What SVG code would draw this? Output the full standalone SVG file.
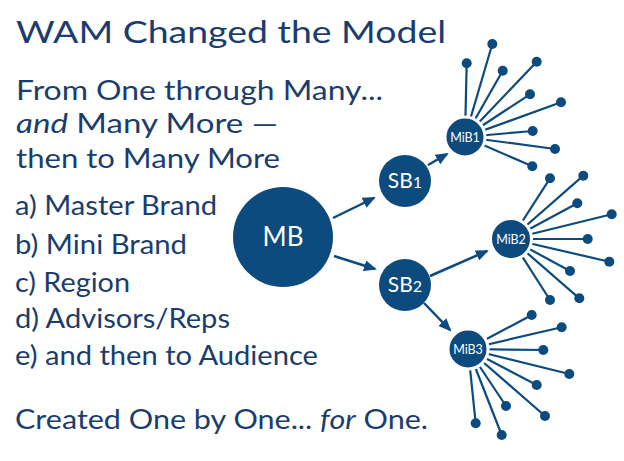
<svg xmlns="http://www.w3.org/2000/svg" width="624" height="461" viewBox="0 0 624 461">
<style>
.t{font-family:"Lato","Open Sans","Liberation Sans",sans-serif;fill:#1a3d6d}
.i{font-style:italic}
.node{fill:#0d4a7d}
.mib{fill:#0d4a7d;stroke:#fff;stroke-width:3}
.lbl{font-family:"Lato","Open Sans","Liberation Sans",sans-serif;fill:#fff;text-anchor:middle}
.arrow{stroke:#0d4a7d;stroke-width:2.5;fill:none;marker-end:url(#ah)}
.spoke{stroke:#0d4a7d;stroke-width:2.2}
.dot{fill:#0d4a7d}
</style>
<defs>
<marker id="ah" markerUnits="userSpaceOnUse" markerWidth="13" markerHeight="11" viewBox="0 0 13 11" refX="11" refY="5.5" orient="auto">
<path d="M0,0 L13,5.5 L0,11 z" fill="#0d4a7d"/>
</marker>
</defs>
<rect width="624" height="461" fill="#fff"/>
<g id="text">
<text class="t" x="16" y="43" font-size="30" textLength="430" lengthAdjust="spacingAndGlyphs">WAM Changed the Model</text>
<text class="t" x="16" y="100" font-size="27" textLength="367" lengthAdjust="spacingAndGlyphs">From One through Many...</text>
<text class="t" x="16" y="133" font-size="27" textLength="262" lengthAdjust="spacingAndGlyphs"><tspan class="i">and</tspan> Many More —</text>
<text class="t" x="16" y="168" font-size="27" textLength="264" lengthAdjust="spacingAndGlyphs">then to Many More</text>
<text class="t" x="15" y="215" font-size="26" textLength="202" lengthAdjust="spacingAndGlyphs">a) Master Brand</text>
<text class="t" x="15" y="254" font-size="26" textLength="172" lengthAdjust="spacingAndGlyphs">b) Mini Brand</text>
<text class="t" x="15" y="292" font-size="26" textLength="115" lengthAdjust="spacingAndGlyphs">c) Region</text>
<text class="t" x="15" y="328" font-size="26" textLength="215" lengthAdjust="spacingAndGlyphs">d) Advisors/Reps</text>
<text class="t" x="15" y="365" font-size="26" textLength="303" lengthAdjust="spacingAndGlyphs">e) and then to Audience</text>
<text class="t" x="15" y="429" font-size="27" textLength="413" lengthAdjust="spacingAndGlyphs">Created One by One... <tspan class="i">for</tspan> One.</text>
</g>
<g id="connectors">
<line class="arrow" x1="333" y1="218" x2="374" y2="198"/>
<line class="arrow" x1="334" y1="256" x2="375" y2="269"/>
<line class="arrow" x1="428" y1="165" x2="447" y2="154"/>
<line class="arrow" x1="430" y1="276" x2="487" y2="251"/>
<line class="arrow" x1="424" y1="303" x2="450" y2="330"/>
<g id="spokes-mib1">
<line class="spoke" x1="465" y1="137" x2="466.7" y2="63.3"/>
<line class="spoke" x1="465" y1="137" x2="492.3" y2="44"/>
<line class="spoke" x1="465" y1="137" x2="502.7" y2="70.7"/>
<line class="spoke" x1="465" y1="137" x2="536.7" y2="61.7"/>
<line class="spoke" x1="465" y1="137" x2="530" y2="94.3"/>
<line class="spoke" x1="465" y1="137" x2="561" y2="102.3"/>
<line class="spoke" x1="465" y1="137" x2="532.7" y2="131"/>
<line class="spoke" x1="465" y1="137" x2="555" y2="149"/>
<line class="spoke" x1="465" y1="137" x2="532.3" y2="166.3"/>
<circle class="dot" cx="466.7" cy="63.3" r="5"/>
<circle class="dot" cx="492.3" cy="44" r="5"/>
<circle class="dot" cx="502.7" cy="70.7" r="5"/>
<circle class="dot" cx="536.7" cy="61.7" r="5"/>
<circle class="dot" cx="530" cy="94.3" r="5"/>
<circle class="dot" cx="561" cy="102.3" r="5"/>
<circle class="dot" cx="532.7" cy="131" r="5"/>
<circle class="dot" cx="555" cy="149" r="5"/>
<circle class="dot" cx="532.3" cy="166.3" r="5"/>
</g>
<g id="spokes-mib2">
<line class="spoke" x1="511" y1="239" x2="550" y2="178.3"/>
<line class="spoke" x1="511" y1="239" x2="583.3" y2="175.7"/>
<line class="spoke" x1="511" y1="239" x2="577.3" y2="203.3"/>
<line class="spoke" x1="511" y1="239" x2="611.7" y2="214.3"/>
<line class="spoke" x1="511" y1="239" x2="587.7" y2="239"/>
<line class="spoke" x1="511" y1="239" x2="609.3" y2="261.7"/>
<line class="spoke" x1="511" y1="239" x2="570" y2="271"/>
<line class="spoke" x1="511" y1="239" x2="579.3" y2="298.3"/>
<line class="spoke" x1="511" y1="239" x2="550" y2="300"/>
<circle class="dot" cx="550" cy="178.3" r="5"/>
<circle class="dot" cx="583.3" cy="175.7" r="5"/>
<circle class="dot" cx="577.3" cy="203.3" r="5"/>
<circle class="dot" cx="611.7" cy="214.3" r="5"/>
<circle class="dot" cx="587.7" cy="239" r="5"/>
<circle class="dot" cx="609.3" cy="261.7" r="5"/>
<circle class="dot" cx="570" cy="271" r="5"/>
<circle class="dot" cx="579.3" cy="298.3" r="5"/>
<circle class="dot" cx="550" cy="300" r="5"/>
</g>
<g id="spokes-mib3">
<line class="spoke" x1="468" y1="349" x2="531.7" y2="315"/>
<line class="spoke" x1="468" y1="349" x2="561.7" y2="327.3"/>
<line class="spoke" x1="468" y1="349" x2="543.3" y2="350"/>
<line class="spoke" x1="468" y1="349" x2="569.3" y2="374"/>
<line class="spoke" x1="468" y1="349" x2="536.7" y2="385"/>
<line class="spoke" x1="468" y1="349" x2="545" y2="416"/>
<line class="spoke" x1="468" y1="349" x2="506" y2="406"/>
<line class="spoke" x1="468" y1="349" x2="501.7" y2="435"/>
<line class="spoke" x1="468" y1="349" x2="475.7" y2="423.3"/>
<circle class="dot" cx="531.7" cy="315" r="5"/>
<circle class="dot" cx="561.7" cy="327.3" r="5"/>
<circle class="dot" cx="543.3" cy="350" r="5"/>
<circle class="dot" cx="569.3" cy="374" r="5"/>
<circle class="dot" cx="536.7" cy="385" r="5"/>
<circle class="dot" cx="545" cy="416" r="5"/>
<circle class="dot" cx="506" cy="406" r="5"/>
<circle class="dot" cx="501.7" cy="435" r="5"/>
<circle class="dot" cx="475.7" cy="423.3" r="5"/>
</g>
</g>
<g id="MB">
<circle class="node" cx="283" cy="237" r="50"/>
<text class="lbl" x="283" y="246" font-size="26">MB</text>
</g>
<g id="SB1">
<circle class="node" cx="405" cy="181" r="26"/>
<text class="lbl" x="405" y="188" font-size="21">SB<tspan font-size="16">1</tspan></text>
</g>
<g id="SB2">
<circle class="node" cx="405" cy="285" r="26"/>
<text class="lbl" x="405" y="292" font-size="21">SB<tspan font-size="16">2</tspan></text>
</g>
<g id="MiB1">
<circle class="mib" cx="465" cy="137" r="20"/>
<text class="lbl" x="465" y="141.5" font-size="12.5">MiB1</text>
</g>
<g id="MiB2">
<circle class="mib" cx="511" cy="239" r="20.5"/>
<text class="lbl" x="511" y="243.5" font-size="12.5">MiB2</text>
</g>
<g id="MiB3">
<circle class="mib" cx="468" cy="349" r="20"/>
<text class="lbl" x="468" y="353.5" font-size="12.5">MiB3</text>
</g>
</svg>
